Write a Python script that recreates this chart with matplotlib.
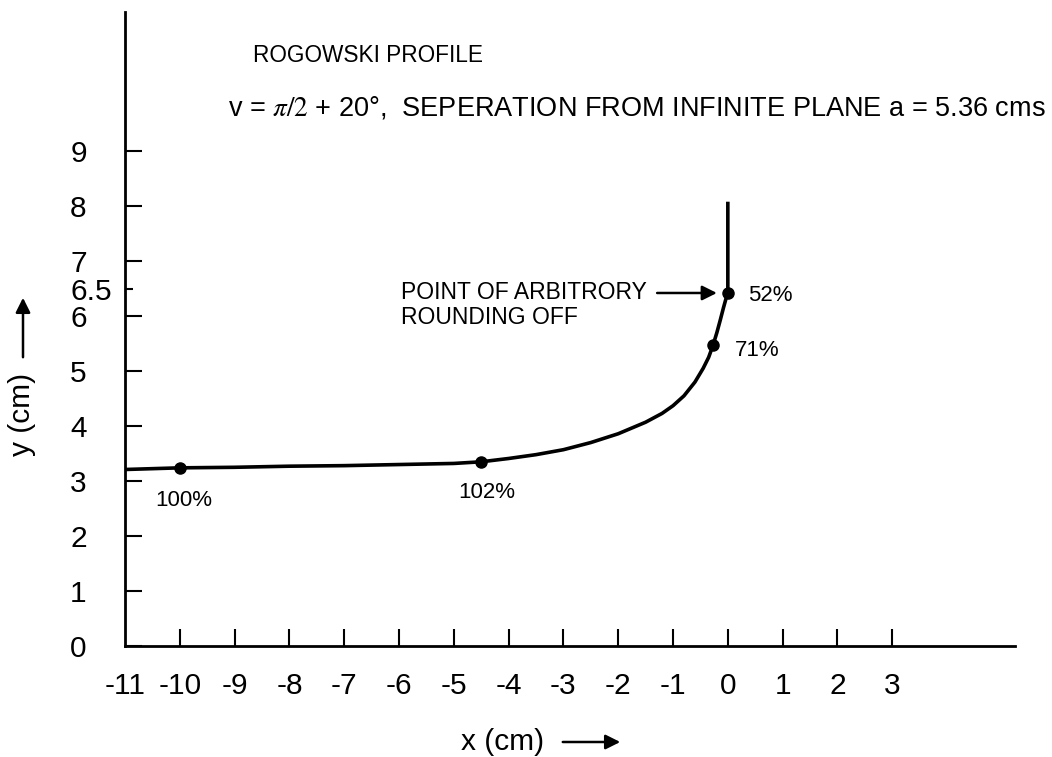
import matplotlib
matplotlib.use("Agg")
import matplotlib.pyplot as plt

plt.rcParams['font.family'] = ['Liberation Sans', 'DejaVu Sans']
plt.rcParams['mathtext.fontset'] = 'stix'

# Profile curve
curve_x = [-11.0, -10.0, -9.0, -8.0, -7.0, -6.0, -5.0, -4.5, -4.0, -3.5, -3.0,
           -2.5, -2.0, -1.5, -1.2, -1.0, -0.8, -0.6, -0.45, -0.35, -0.27,
           -0.2, -0.14, -0.08, -0.03, 0.0, 0.0]
curve_y = [3.21, 3.24, 3.25, 3.27, 3.28, 3.30, 3.32, 3.35, 3.41, 3.48, 3.57,
           3.70, 3.86, 4.07, 4.23, 4.37, 4.55, 4.80, 5.05, 5.25, 5.47,
           5.70, 5.92, 6.15, 6.33, 6.42, 8.08]

# Marked points and their labels
pt_x = [-10.0, -4.5, -0.27, 0.0]
pt_y = [3.24, 3.35, 5.47, 6.42]
pt_labels = ["100%", "102%", "71%", "52%"]
lab_x = [-9.92, -4.39, 0.53, 0.77]
lab_y = [2.65, 2.80, 5.38, 6.38]

xticks = list(range(-11, 4))
yticks = [0, 1, 2, 3, 4, 5, 6, 7, 8, 9]
ytick_minor = [6.5]

W, H = 1052, 757
fig = plt.figure(figsize=(W / 100, H / 100), dpi=100)
ax = fig.add_axes([125 / W, (H - 646) / H, 890 / W, 634 / H])
ax.set_xlim(-11, 5.24)
ax.set_ylim(0, 11.53)
for s in ['top', 'right']:
    ax.spines[s].set_visible(False)
for s in ['left', 'bottom']:
    ax.spines[s].set_linewidth(2.0)

ax.plot(curve_x, curve_y, color='black', lw=2.6, solid_capstyle='butt',
        solid_joinstyle='round')
ax.plot(pt_x, pt_y, 'o', color='black', ms=8)
for lx, ly, t in zip(lab_x, lab_y, pt_labels):
    ax.text(lx, ly, t, fontsize=16, ha='center', va='center')

ax.set_xticks(xticks)
ax.set_xticklabels([str(v) for v in xticks])
ax.set_yticks(yticks)
ax.set_yticklabels([str(v) for v in yticks])
ax.set_yticks(ytick_minor, minor=True)
ax.set_yticklabels(["6.5"], minor=True)
ax.tick_params(axis='x', direction='in', length=12, width=1.5, labelsize=21.5, pad=19)
ax.tick_params(axis='y', which='major', direction='in', length=12, width=1.5,
               labelsize=21.5, pad=39.5)
ax.tick_params(axis='y', which='minor', direction='in', length=6, width=1.5,
               labelsize=21.5, pad=39.5)
for lab in ax.get_yticklabels(which='both'):
    lab.set_horizontalalignment('left')
ax.xaxis.get_major_ticks()[0].tick1line.set_visible(False)

# Titles
ax.text(-8.66, 10.73, "ROGOWSKI PROFILE", fontsize=16.3, ha='left', va='center')
ax.text(-9.12, 9.78,
        r"v = $\pi/2$ + 20°,  SEPERATION FROM INFINITE PLANE a = 5.36 cms",
        fontsize=19.5, ha='left', va='center')

# Annotation
ax.text(-5.96, 6.42, "POINT OF ARBITRORY", fontsize=16.5, ha='left', va='center')
ax.text(-5.96, 5.98, "ROUNDING OFF", fontsize=16.5, ha='left', va='center')
ax.annotate("", xy=(-0.2, 6.42), xytext=(-1.29, 6.42),
            arrowprops=dict(arrowstyle='-|>', color='black', lw=1.8,
                            mutation_scale=22, shrinkA=0, shrinkB=0))

# Axis labels with arrows
fig.text(503 / W, 1 - 742 / H, "x (cm)", fontsize=21.5, ha='center', va='center')
fig.add_artist(matplotlib.patches.FancyArrowPatch(
    (560 / W, 1 - 742 / H), (623 / W, 1 - 742 / H), transform=fig.transFigure,
    arrowstyle='-|>', mutation_scale=22, color='black', lw=1.8))
fig.text(22 / W, 1 - 414 / H, "y (cm)", fontsize=21.5, ha='center', va='center',
         rotation=90)
fig.add_artist(matplotlib.patches.FancyArrowPatch(
    (23 / W, 1 - 360 / H), (23 / W, 1 - 295 / H), transform=fig.transFigure,
    arrowstyle='-|>', mutation_scale=22, color='black', lw=1.8))

fig.savefig("out.png", dpi=100)
